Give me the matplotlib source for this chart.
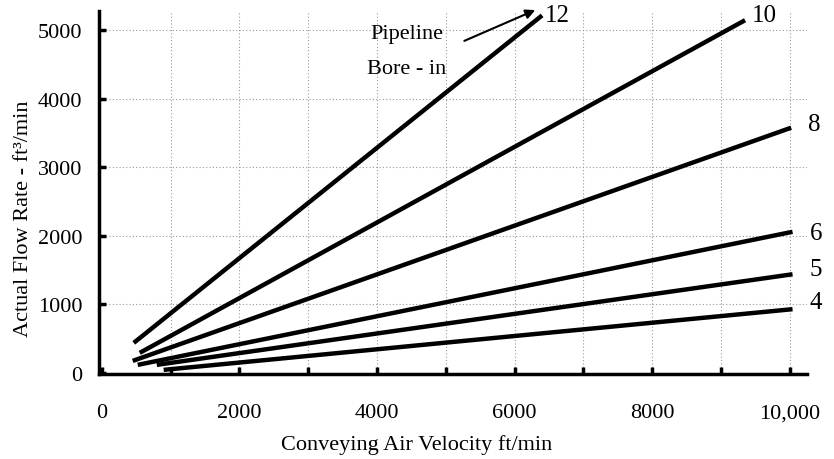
import matplotlib.pyplot as plt

# pipeline bores (in) and the two ends of each line
bores = ["12", "10", "8", "6", "5", "4"]
v_start = [465, 552, 450, 523, 800, 900]          # ft/min
q_start = [438, 292, 175, 117, 117, 44]           # ft3/min
v_end = [6400, 9350, 10020, 10040, 10040, 10040]
q_end = [5220, 5150, 3580, 2060, 1440, 930]

# where the bore numbers sit
label_v = [6440, 9448, 10262, 10290, 10290, 10290]
label_q = [5226, 5226, 3635, 2040, 1518, 1036]

x_ticks = list(range(0, 11000, 1000))
x_ticklabels = ["0", "", "2000", "", "4000", "", "6000", "", "8000", "", "10,000"]
y_ticks = [0, 1000, 2000, 3000, 4000, 5000]

plt.rcParams["font.family"] = ["Liberation Serif", "DejaVu Serif"]

fig = plt.figure(figsize=(8.34, 4.6), dpi=100)
ax = fig.add_axes([0.1187, 0.185, 0.8489, 0.789])

# grid
for v in x_ticks[1:]:
    ax.axvline(v, color="#999999", lw=0.8, ls=(0, (1, 2)), zorder=0)
for q in y_ticks[1:]:
    ax.axhline(q, color="#999999", lw=0.8, ls=(0, (1, 2)), zorder=0)

# flow lines
for i in range(len(bores)):
    ax.plot([v_start[i], v_end[i]], [q_start[i], q_end[i]],
            color="black", lw=3.2, solid_capstyle="butt", zorder=3)
    ax.text(label_v[i], label_q[i], bores[i], fontsize=18,
            ha="left", va="center", clip_on=False)

ax.text(4433, 4950, "Pipeline", fontsize=16, ha="center", va="center")
ax.text(4433, 4450, "Bore - in", fontsize=16, ha="center", va="center")
ax.annotate("", xy=(6337, 5314), xytext=(5233, 4832),
            arrowprops=dict(arrowstyle="-|>", color="black", lw=1.5,
                            mutation_scale=14),
            annotation_clip=False)

ax.set_xlim(-40, 10250)
ax.set_ylim(-15, 5285)
ax.set_xticks(x_ticks)
ax.set_xticklabels(x_ticklabels)
ax.set_yticks(y_ticks)

ax.spines["top"].set_visible(False)
ax.spines["right"].set_visible(False)
ax.spines["left"].set_linewidth(2.5)
ax.spines["bottom"].set_linewidth(2.5)
ax.tick_params(direction="in", length=5, width=2.5, labelsize=16)
ax.tick_params(axis="x", pad=21)
ax.tick_params(axis="y", pad=12)

ax.set_xlabel("Conveying Air Velocity ft/min", fontsize=16)
ax.set_ylabel("Actual Flow Rate - ft³/min", fontsize=16)
ax.xaxis.set_label_coords(0.449, -0.165)
ax.yaxis.set_label_coords(-0.093, 0.43)

fig.savefig("out.png", dpi=100)
